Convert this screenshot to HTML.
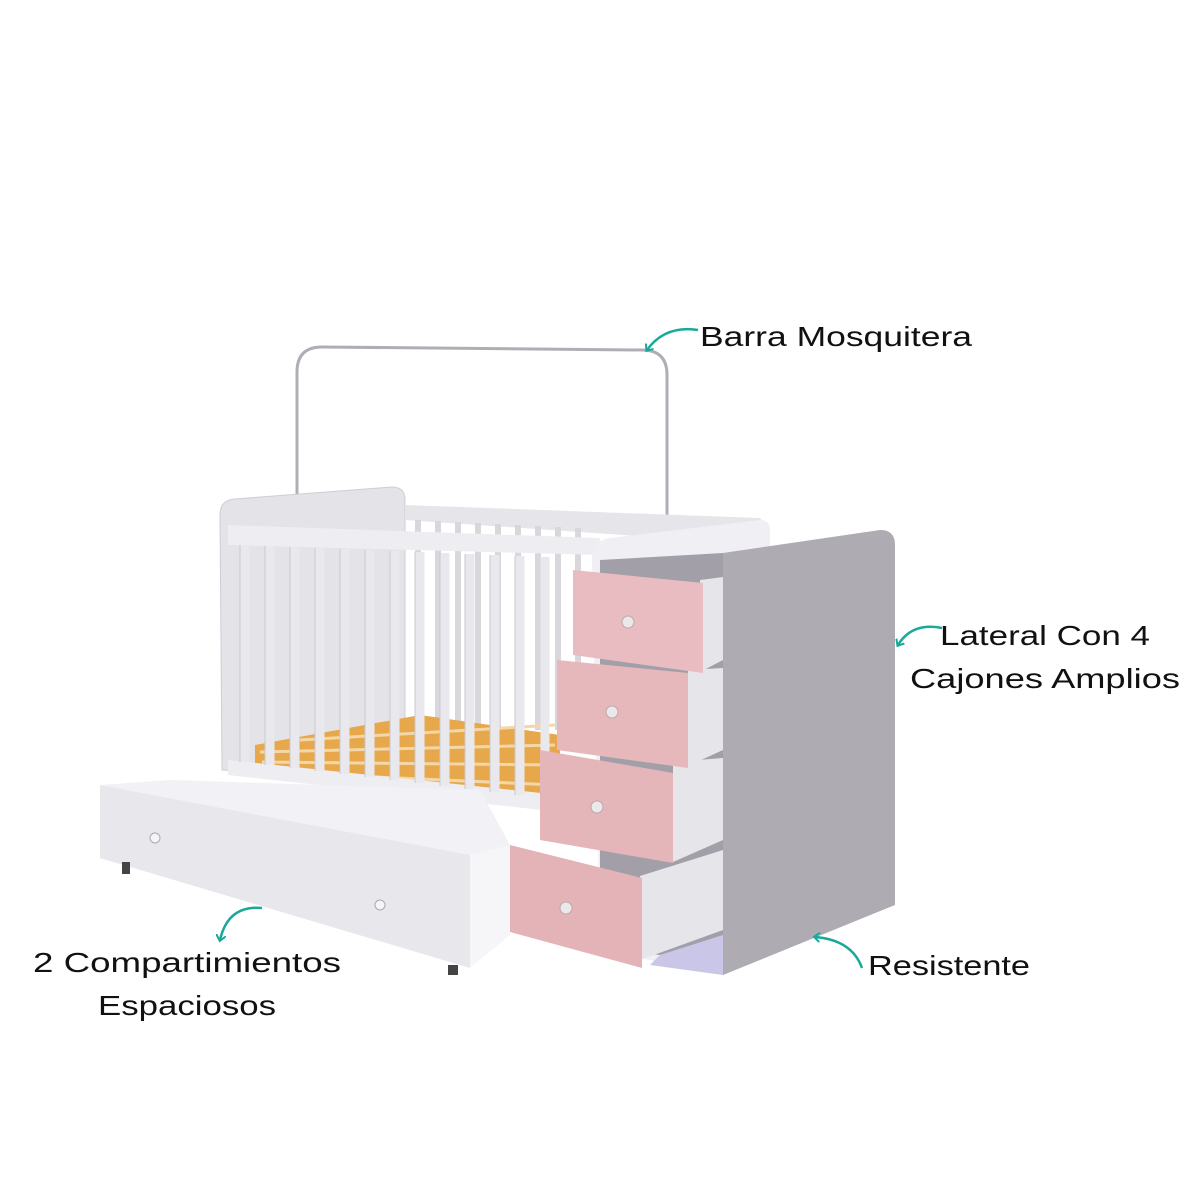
<!DOCTYPE html>
<html><head><meta charset="utf-8"><style>
html,body{margin:0;padding:0;background:#fff;}
svg{display:block}
text{font-family:"Liberation Sans",sans-serif;font-size:28px;fill:#111;}
</style></head><body>
<svg width="1200" height="1200" viewBox="0 0 1200 1200">
<defs>
<marker id="ah" markerWidth="10" markerHeight="10" refX="5" refY="5" orient="auto" markerUnits="userSpaceOnUse">
<path d="M0,0 L6,5 L0,10" fill="none" stroke="#1aa89a" stroke-width="2"/>
</marker>
</defs>
<path d="M297,500 L297,372 Q297,347 322,347 L642,350 Q667,350 667,375 L667,532" fill="none" stroke="#b0aeb5" stroke-width="3"/>
<path d="M220,515 Q220,500 235,499 L392,487 Q405,487 405,500 L405,780 L222,770 Z" fill="#e4e3e8" stroke="#cfcdd4"/>
<polygon points="405,505 760,518 770,530 770,545 405,520" fill="#e6e5ea"/>
<g stroke="#d8d7dc" stroke-width="6">
<line x1="418" y1="520" x2="418" y2="730"/><line x1="438" y1="521" x2="438" y2="730"/><line x1="458" y1="522" x2="458" y2="730"/><line x1="478" y1="523" x2="478" y2="730"/><line x1="498" y1="524" x2="498" y2="730"/><line x1="518" y1="525" x2="518" y2="730"/><line x1="538" y1="526" x2="538" y2="730"/><line x1="558" y1="527" x2="558" y2="730"/><line x1="578" y1="528" x2="578" y2="730"/>
</g>
<polygon points="255,745 420,715 560,735 560,810 255,770" fill="#e6a84a"/>
<g stroke="#f3d7a8" stroke-width="3">
<line x1="260" y1="752" x2="555" y2="745"/><line x1="262" y1="762" x2="555" y2="765"/><line x1="265" y1="772" x2="555" y2="785"/><line x1="300" y1="740" x2="555" y2="725"/>
</g>
<polygon points="228,525 600,538 600,555 228,545" fill="#eeeef2"/>
<polygon points="228,760 560,795 560,812 228,775" fill="#eeeef2"/>
<g stroke="#e9e8ed" stroke-width="9">
<line x1="245" y1="545" x2="245" y2="762"/><line x1="270" y1="546" x2="270" y2="765"/><line x1="295" y1="547" x2="295" y2="768"/><line x1="320" y1="548" x2="320" y2="771"/><line x1="345" y1="549" x2="345" y2="774"/><line x1="370" y1="550" x2="370" y2="777"/><line x1="395" y1="551" x2="395" y2="780"/><line x1="420" y1="552" x2="420" y2="783"/><line x1="445" y1="553" x2="445" y2="786"/><line x1="470" y1="554" x2="470" y2="789"/><line x1="495" y1="555" x2="495" y2="792"/><line x1="520" y1="556" x2="520" y2="795"/><line x1="545" y1="557" x2="545" y2="798"/>
</g>
<g stroke="#c9c8ce" stroke-width="1">
<line x1="240" y1="545" x2="240" y2="762"/><line x1="265" y1="546" x2="265" y2="765"/><line x1="290" y1="547" x2="290" y2="768"/><line x1="315" y1="548" x2="315" y2="771"/><line x1="340" y1="549" x2="340" y2="774"/><line x1="365" y1="550" x2="365" y2="777"/><line x1="390" y1="551" x2="390" y2="780"/><line x1="415" y1="552" x2="415" y2="783"/><line x1="440" y1="553" x2="440" y2="786"/><line x1="465" y1="554" x2="465" y2="789"/><line x1="490" y1="555" x2="490" y2="792"/><line x1="515" y1="556" x2="515" y2="795"/>
</g>
<path d="M592,560 Q592,540 610,538 L760,520 Q770,520 770,530 L770,548 L723,553 L723,975 L600,950 Z" fill="#f0eff3"/>
<polygon points="600,560 723,553 723,960 600,950" fill="#a29fa8"/>
<polygon points="700,580 723,577 723,660 700,672" fill="#e6e5ea"/>
<polygon points="688,670 723,668 723,750 688,766" fill="#e6e5ea"/>
<polygon points="673,762 723,758 723,840 673,862" fill="#e6e5ea"/>
<polygon points="640,876 723,850 723,930 640,960" fill="#e6e5ea"/>
<polygon points="660,955 723,935 723,975 650,965" fill="#c9c6e8"/>
<polygon points="573,570 703,583 703,673 573,655" fill="#e8bcc0"/>
<polygon points="557,660 688,673 688,768 557,750" fill="#e6b8bc"/>
<polygon points="540,750 673,773 673,863 540,840" fill="#e4b5b9"/>
<polygon points="510,845 642,878 642,968 510,932" fill="#e3b3b7"/>
<g fill="#ece8ea" stroke="#b9a9ab">
<circle cx="628" cy="622" r="6"/><circle cx="612" cy="712" r="6"/><circle cx="597" cy="807" r="6"/><circle cx="566" cy="908" r="6"/>
</g>
<path d="M723,553 L880,530 Q895,530 895,545 L895,905 L723,975 Z" fill="#aeabb3"/>
<polygon points="100,785 170,780 480,790 510,845 510,930 470,855" fill="#f2f1f5"/>
<polygon points="100,785 470,855 470,968 100,858" fill="#e8e7ec"/>
<polygon points="470,855 510,845 510,935 470,968" fill="#f6f6f8"/>
<circle cx="155" cy="838" r="5" fill="#f5f5f7" stroke="#aaa"/>
<circle cx="380" cy="905" r="5" fill="#f5f5f7" stroke="#aaa"/>
<rect x="122" y="862" width="8" height="12" fill="#444"/>
<rect x="448" y="965" width="10" height="10" fill="#444"/>
<g fill="none" stroke="#1aa89a" stroke-width="2.5">
<path d="M698,330 Q665,325 647,350" marker-end="url(#ah)"/>
<path d="M942,628 Q912,622 898,645" marker-end="url(#ah)"/>
<path d="M862,968 Q852,940 815,937" marker-end="url(#ah)"/>
<path d="M262,908 Q228,905 220,940" marker-end="url(#ah)"/>
</g>
<text x="700" y="346" textLength="272" lengthAdjust="spacingAndGlyphs">Barra Mosquitera</text>
<text x="940" y="645" textLength="210" lengthAdjust="spacingAndGlyphs">Lateral Con 4</text>
<text x="910" y="688" textLength="270" lengthAdjust="spacingAndGlyphs">Cajones Amplios</text>
<text x="868" y="975" textLength="162" lengthAdjust="spacingAndGlyphs">Resistente</text>
<text x="33" y="972" textLength="308" lengthAdjust="spacingAndGlyphs">2 Compartimientos</text>
<text x="98" y="1015" textLength="178" lengthAdjust="spacingAndGlyphs">Espaciosos</text>
</svg>
</body></html>
